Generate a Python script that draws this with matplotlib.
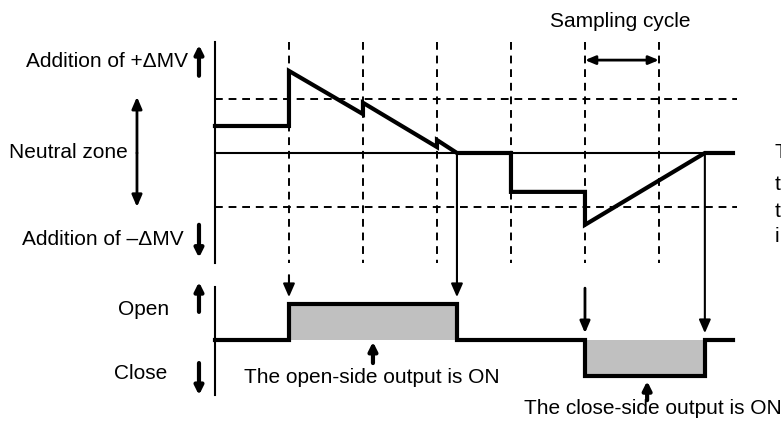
import numpy as np
import matplotlib
matplotlib.use("Agg")
import matplotlib.pyplot as plt

plt.rcParams['font.family'] = ['Liberation Sans', 'DejaVu Sans']

# sampling instants (in sampling cycles)
sample_t = [0, 1, 2, 3, 4, 5]

# MV deviation from neutral (neutral zone = -1 .. +1)
mv_t = [-1, 0, 0, 1, 1, 2, 2, 2.27, 3, 3, 4, 4, 5.62, 6]
mv_v = [0.5, 0.5, 1.52, 0.72, 0.93, 0.11, 0.24, 0, 0, -0.72, -0.72, -1.33, 0, 0]

# output state: +1 open, 0 off, -1 close
out_t = [-1, 0, 0, 2.27, 2.27, 4, 4, 5.62, 5.62, 6]
out_v = [0, 0, 1, 1, 0, 0, -1, -1, 0, 0]

zone = 1.0
# lower chart sits below the upper one
base = -3.463
scale = 0.667

def low(o):
    return base + scale * np.asarray(o, dtype=float)

fig = plt.figure(figsize=(7.81, 4.25), dpi=100)
ax = fig.add_axes([0, 0, 1, 1])
ax.set_xlim(-3.905, 6.649)
ax.set_ylim(-5.037, 2.833)
ax.axis('off')

k = 'black'
fs = 15

# upper chart frame
ax.plot([-1, -1], [2.056, -2.04], color=k, lw=1.5)
for t in sample_t:
    ax.plot([t, t], [2.056, -2.04], color=k, lw=1.4, ls=(0, (4, 3)))
for lev in [zone, -zone]:
    ax.plot([-1, 6.05], [lev, lev], color=k, lw=1.4, ls=(0, (4, 3)))
ax.plot([-1, 6], [0, 0], color=k, lw=1.5)
ax.plot(mv_t, mv_v, color=k, lw=3, solid_joinstyle='miter')

# lower chart
ax.plot([-1, -1], low([1.47, -1.53]), color=k, lw=1.5)
ax.fill_between(out_t, low(0), low(out_v), color='#c0c0c0', lw=0)
ax.plot(out_t, low(out_v), color=k, lw=3, solid_joinstyle='miter')

def arrow(x0, y0, x1, y1, lw=1.5, style='-|>', hl=0.7, hw=0.3):
    ax.annotate('', xy=(x1, y1), xytext=(x0, y0),
                arrowprops=dict(arrowstyle='%s,head_length=%s,head_width=%s' % (style, hl, hw),
                                color=k, lw=lw, shrinkA=0, shrinkB=0))

# crossing -> output switching
arrow(2.27, 0, 2.27, low(1.19), hl=0.8, hw=0.35)
arrow(5.62, 0, 5.62, low(0.19), hl=0.8, hw=0.35)
arrow(0, low(1.8), 0, low(1.19), hl=0.8, hw=0.35)
arrow(4, low(1.44), 4, low(0.19), lw=2, hl=0.7, hw=0.3)

# sampling cycle
arrow(4, 1.72, 5, 1.72, lw=2, style='<|-|>', hl=0.6, hw=0.25)
ax.text(4.47, 2.43, 'Sampling cycle', fontsize=fs, ha='center', va='center')

# left labels
ax.text(-1.365, 1.70, 'Addition of +ΔMV', fontsize=fs, ha='right', va='center')
arrow(-1.216, 1.43, -1.216, 2.0, lw=3, hl=0.5, hw=0.25)
ax.text(-3.78, 0, 'Neutral zone', fontsize=fs, ha='left', va='center')
arrow(-2.054, 0, -2.054, 1.04, lw=2, hl=0.7, hw=0.3)
arrow(-2.054, 0, -2.054, -1.0, lw=2, hl=0.7, hw=0.3)
ax.text(-1.42, -1.61, 'Addition of –ΔMV', fontsize=fs, ha='right', va='center')
arrow(-1.216, -1.33, -1.216, -1.94, lw=3, hl=0.5, hw=0.25)

ax.text(-1.97, low(0.86), 'Open', fontsize=fs, ha='center', va='center')
arrow(-1.216, low(0.78), -1.216, low(1.61), lw=3, hl=0.5, hw=0.25)
ax.text(-2.01, low(-0.94), 'Close', fontsize=fs, ha='center', va='center')
arrow(-1.216, low(-0.64), -1.216, low(-1.53), lw=3, hl=0.5, hw=0.25)

# output notes
ax.text(1.12, low(-1.03), 'The open-side output is ON', fontsize=fs, ha='center', va='center')
arrow(1.135, low(-0.64), 1.135, low(-0.05), lw=3, hl=0.5, hw=0.25)
ax.text(4.92, low(-1.89), 'The close-side output is ON', fontsize=fs, ha='center', va='center')
arrow(4.84, low(-1.67), 4.84, low(-1.14), lw=3, hl=0.5, hw=0.25)

# note text running off the right edge (only first letters show)
for yy, w in zip([0, -0.59, -1.09, -1.54], ['T', 't', 't', 'i']):
    ax.text(6.56, yy, w, fontsize=fs, ha='left', va='center')

fig.savefig('out.png', dpi=100)
